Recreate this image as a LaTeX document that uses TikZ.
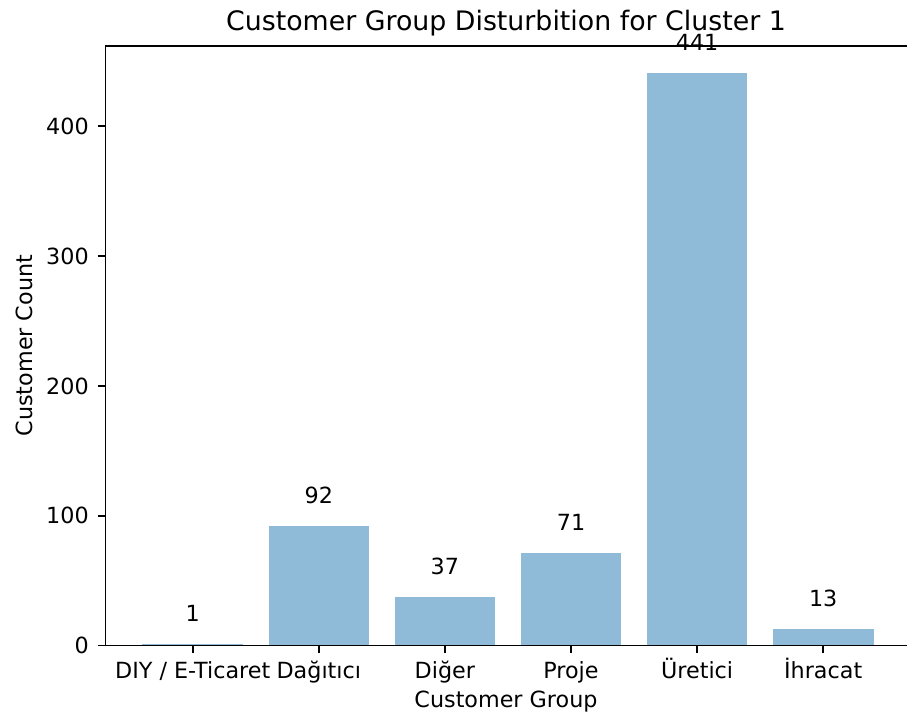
\documentclass[tikz,border=0pt]{standalone}
\usepackage{fontspec}
\setmainfont{DejaVu Sans}
\usepackage{tikz}
\definecolor{barblue}{RGB}{143,187,217}

\begin{document}
\begin{tikzpicture}[x=0.75pt,y=0.75pt,yscale=-1,xscale=1,
  ticklab/.style={font=\fontsize{16.7}{20}\selectfont, inner sep=0pt},
  spine/.style={line width=1.35pt, line cap=rect},
  tickmark/.style={line width=1.35pt}]
%set diagram left start at 0, and has height of 720
\useasboundingbox (0,0) rectangle (907,720);

%Bars
\foreach \c/\v [count=\i] in {192.7/1, 318.8/92, 444.9/37, 571/71, 697.1/441, 823.2/13} {
  \fill [barblue] (\c-50.3,645.5) rectangle (\c+50.3,{645.5-\v*1.298});
  % Text Node
  \node (val\i) [ticklab, anchor=base] at (\c,{645.5-\v*1.298-22.5}) {\v};
}

%Spines
\draw [spine] (105.5,45.7) -- (105.5,645.5) -- (907,645.5) ;
\draw [spine] (105.5,45.7) -- (907,45.7) ;

%Y ticks
\foreach \v in {0,100,200,300,400} {
  \draw [tickmark] (97.7,{645.5-\v*1.298}) -- (105.5,{645.5-\v*1.298}) ;
  % Text Node
  \node (ytick\v) [ticklab, anchor=east] at (89,{645.5-\v*1.298}) {\v};
}

%X ticks
\foreach \c/\lab [count=\i] in {192.7/{DIY / E-Ticaret}, 318.8/{Dağıtıcı}, 444.9/{Diğer}, 571/{Proje}, 697.1/{Üretici}, 823.2/{İhracat}} {
  \draw [tickmark] (\c,645.5) -- (\c,653.3) ;
  % Text Node
  \node (xtick\i) [ticklab, anchor=base] at (\c,678.3) {\lab};
}

% Text Node
\node (xlabel) [ticklab, anchor=base] at (506,707) {Customer Group};
% Text Node
\node (ylabel) [ticklab, anchor=base, rotate=90] at (32,345.6) {Customer Count};
% Text Node
\node (title) [inner sep=0pt, anchor=base, font=\fontsize{20.1}{24}\selectfont] at (506,30.7) {Customer Group Disturbition for Cluster 1};

\end{tikzpicture}
\end{document}
